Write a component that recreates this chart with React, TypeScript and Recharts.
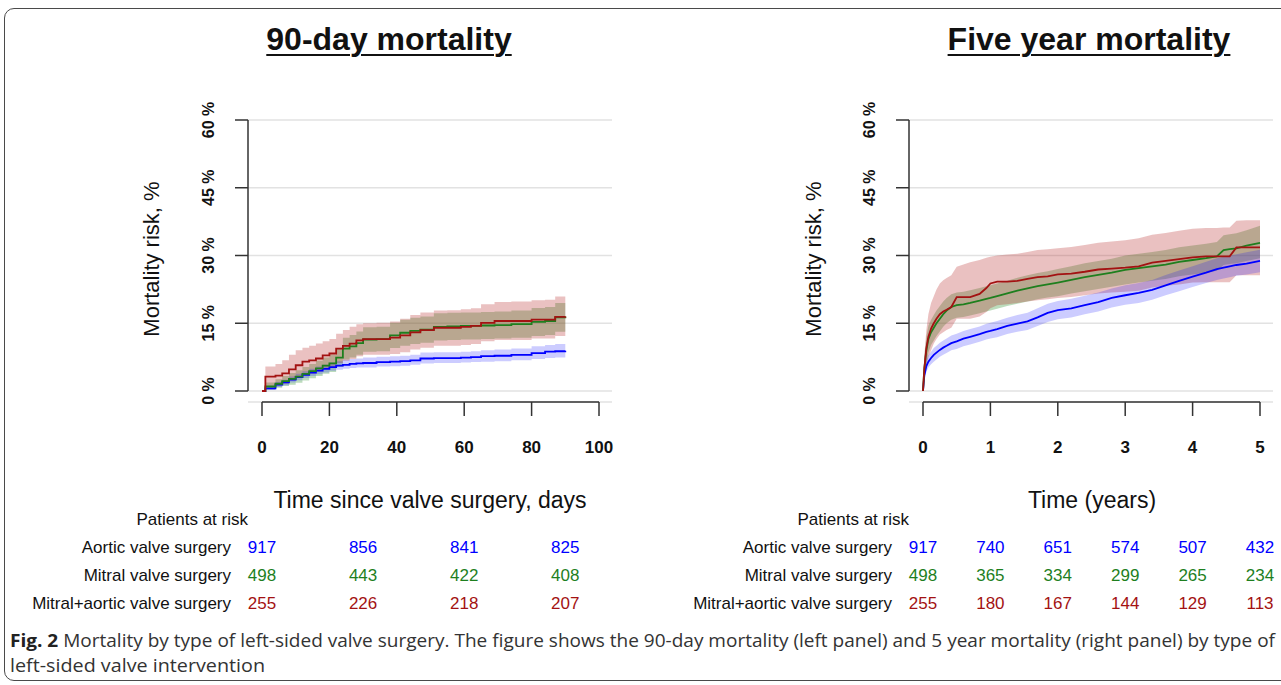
import { ComposedChart, Area, Line, XAxis, YAxis, CartesianGrid, ReferenceLine } from 'recharts'

// 90-day panel, cumulative mortality in %
const days = [0, 1, 4, 6, 8, 10, 12, 14, 16, 18, 20, 22, 24, 26, 28, 30, 34, 38, 41, 44, 47, 51, 55, 59, 62, 65, 69, 74, 80, 84, 87, 90]
const aortic90 = [0, 0.6, 1.4, 1.9, 2.5, 3.1, 3.6, 4.1, 4.5, 4.9, 5.3, 5.6, 5.8, 6.0, 6.1, 6.2, 6.4, 6.5, 6.6, 6.8, 7.2, 7.3, 7.3, 7.4, 7.5, 7.7, 7.8, 8.0, 8.4, 8.7, 8.8, 8.9]
const aortic90Lo = [0, 0.2, 0.9, 1.3, 1.9, 2.4, 2.9, 3.3, 3.7, 4.1, 4.5, 4.7, 4.9, 5.1, 5.2, 5.2, 5.4, 5.5, 5.6, 5.8, 6.1, 6.2, 6.2, 6.3, 6.4, 6.5, 6.6, 6.8, 7.1, 7.3, 7.4, 7.5]
const aortic90Hi = [0, 1.0, 2.0, 2.5, 3.2, 3.8, 4.4, 4.9, 5.4, 5.8, 6.3, 6.6, 6.9, 7.1, 7.2, 7.4, 7.6, 7.7, 7.8, 8.0, 8.5, 8.6, 8.6, 8.7, 8.8, 9.0, 9.2, 9.4, 9.9, 10.2, 10.4, 10.6]
const mitral90 = [0, 1.0, 1.6, 2.2, 2.7, 3.2, 3.8, 4.4, 5.0, 5.6, 6.1, 7.4, 9.4, 9.9, 10.6, 11.4, 11.5, 12.3, 12.9, 13.3, 13.6, 14.2, 14.3, 14.4, 14.4, 14.5, 14.6, 14.8, 15.3, 15.5, 16.3, 16.5]
const mitral90Lo = [0, 0.3, 0.7, 1.1, 1.4, 1.8, 2.3, 2.8, 3.3, 3.8, 4.2, 5.3, 7.0, 7.4, 8.0, 8.7, 8.8, 9.5, 10.0, 10.4, 10.7, 11.2, 11.3, 11.4, 11.4, 11.5, 11.6, 11.8, 12.2, 12.4, 13.1, 13.2]
const mitral90Hi = [0, 1.9, 2.6, 3.3, 4.0, 4.6, 5.3, 6.0, 6.7, 7.4, 8.0, 9.5, 11.8, 12.4, 13.2, 14.1, 14.2, 15.1, 15.8, 16.2, 16.5, 17.2, 17.3, 17.4, 17.4, 17.5, 17.6, 17.8, 18.4, 18.6, 19.5, 19.8]
const both90 = [0, 3.2, 3.4, 3.9, 4.8, 5.7, 6.5, 6.8, 7.2, 7.9, 8.3, 9.4, 10.0, 10.5, 11.2, 11.5, 11.5, 11.8, 12.3, 13.0, 13.5, 14.0, 14.0, 14.2, 14.4, 15.1, 15.5, 15.5, 15.8, 15.8, 16.4, 16.5]
const both90Lo = [0, 1.0, 1.2, 1.6, 2.3, 3.0, 3.6, 3.9, 4.3, 4.9, 5.2, 6.2, 6.7, 7.1, 7.7, 8.0, 8.0, 8.2, 8.6, 9.2, 9.6, 10.0, 10.0, 10.2, 10.4, 11.0, 11.3, 11.3, 11.6, 11.6, 12.2, 12.2]
const both90Hi = [0, 5.4, 6.0, 6.8, 8.0, 9.0, 9.6, 10.0, 10.5, 11.0, 11.5, 12.7, 13.5, 14.2, 14.8, 15.0, 15.1, 15.4, 16.0, 16.8, 17.4, 17.8, 17.9, 18.1, 18.3, 19.2, 19.7, 19.8, 20.1, 20.2, 20.9, 21.0]

// five year panel
const years = [0, 0.02, 0.05, 0.08, 0.12, 0.16, 0.2, 0.25, 0.3, 0.35, 0.42, 0.5, 0.6, 0.7, 0.84, 0.94, 1.0, 1.1, 1.25, 1.4, 1.55, 1.7, 1.85, 2.0, 2.2, 2.4, 2.6, 2.8, 3.0, 3.2, 3.4, 3.6, 3.8, 4.0, 4.2, 4.36, 4.46, 4.55, 4.65, 4.8, 5.0]
const aortic5y = [0, 3.5, 5.5, 6.5, 7.3, 8.0, 8.5, 9.1, 9.6, 10.0, 10.6, 11.0, 11.6, 12.0, 12.6, 13.1, 13.3, 13.7, 14.4, 14.9, 15.4, 16.3, 17.3, 17.9, 18.3, 19.0, 19.7, 20.6, 21.2, 21.7, 22.4, 23.4, 24.4, 25.3, 26.2, 27.0, 27.3, 27.6, 27.9, 28.2, 28.8]
const aortic5yLo = [0, 2.5, 4.2, 5.2, 5.9, 6.5, 7.0, 7.6, 8.0, 8.4, 9.0, 9.3, 9.9, 10.3, 10.9, 11.4, 11.6, 11.9, 12.6, 13.1, 13.5, 14.4, 15.3, 15.9, 16.3, 17.0, 17.6, 18.5, 19.1, 19.5, 20.2, 21.2, 22.1, 23.0, 23.9, 24.6, 24.9, 25.2, 25.5, 25.8, 26.3]
const aortic5yHi = [0, 4.5, 6.8, 7.9, 8.7, 9.5, 10.0, 10.7, 11.2, 11.6, 12.3, 12.7, 13.3, 13.7, 14.3, 14.9, 15.1, 15.5, 16.2, 16.8, 17.3, 18.3, 19.3, 19.9, 20.4, 21.1, 21.8, 22.7, 23.4, 23.9, 24.6, 25.7, 26.7, 27.6, 28.6, 29.4, 29.7, 30.0, 30.3, 30.7, 31.3]
const mitral5y = [0, 5.0, 9.0, 11.5, 13.0, 14.0, 15.0, 16.0, 17.0, 17.8, 18.6, 19.0, 19.2, 19.5, 20.0, 20.4, 20.6, 21.0, 21.6, 22.2, 22.7, 23.2, 23.6, 24.0, 24.6, 25.2, 25.7, 26.2, 26.8, 27.2, 27.6, 28.0, 28.6, 29.0, 29.4, 29.8, 31.2, 31.4, 31.6, 32.2, 32.8]
const mitral5yLo = [0, 2.5, 6.0, 8.5, 10.2, 11.2, 12.2, 13.2, 14.2, 15.0, 15.8, 16.2, 16.4, 16.7, 17.2, 17.6, 17.8, 18.2, 18.8, 19.3, 19.8, 20.3, 20.7, 21.0, 21.6, 22.1, 22.6, 23.1, 23.6, 24.0, 24.4, 24.8, 25.4, 25.8, 26.2, 26.6, 27.9, 28.1, 28.3, 28.8, 29.4]
const mitral5yHi = [0, 7.5, 12.0, 14.5, 15.8, 16.8, 17.8, 18.8, 19.8, 20.6, 21.4, 21.8, 22.0, 22.3, 22.8, 23.2, 23.4, 23.8, 24.4, 25.1, 25.6, 26.1, 26.5, 27.0, 27.6, 28.3, 28.8, 29.3, 30.0, 30.4, 30.8, 31.2, 31.8, 32.2, 32.6, 33.0, 34.5, 34.7, 34.9, 35.6, 36.6]
const both5y = [0, 5.0, 9.5, 12.0, 13.8, 15.0, 16.0, 17.0, 17.6, 18.0, 18.6, 20.8, 20.8, 20.8, 21.5, 22.8, 23.8, 24.2, 24.2, 24.4, 24.8, 25.2, 25.4, 25.8, 26.0, 26.4, 26.9, 27.1, 27.3, 27.6, 28.4, 28.8, 29.2, 29.6, 29.8, 29.8, 29.8, 29.8, 31.8, 31.8, 31.8]
const both5yLo = [0, 2.5, 5.5, 7.5, 9.0, 10.5, 11.5, 12.5, 13.0, 13.5, 14.0, 16.0, 16.0, 16.0, 16.5, 17.5, 18.3, 19.0, 19.2, 19.5, 19.8, 20.1, 20.3, 20.6, 20.8, 21.2, 21.6, 21.8, 22.0, 22.2, 22.9, 23.3, 23.6, 24.0, 24.1, 24.1, 24.1, 24.1, 25.6, 25.6, 25.6]
const both5yHi = [0, 8.0, 13.5, 17.0, 19.5, 21.0, 22.5, 23.8, 24.5, 25.0, 25.6, 27.5, 28.0, 28.5, 29.0, 29.5, 29.7, 30.0, 30.2, 30.4, 30.8, 31.2, 31.4, 31.6, 31.9, 32.3, 32.8, 33.1, 33.4, 33.8, 34.6, 35.0, 35.5, 35.9, 36.1, 36.1, 36.2, 36.2, 37.7, 37.8, 37.8]

const yTicks = [0, 15, 30, 45, 60]
const dayTicks = [0, 20, 40, 60, 80, 100]
const yearTicks = [0, 1, 2, 3, 4, 5]

// patients at risk
const groups = ['Aortic valve surgery', 'Mitral valve surgery', 'Mitral+aortic valve surgery']
const riskDays = [0, 30, 60, 90]
const risk90 = [
  [917, 856, 841, 825],
  [498, 443, 422, 408],
  [255, 226, 218, 207],
]
const riskYears = [0, 1, 2, 3, 4, 5]
const risk5y = [
  [917, 740, 651, 574, 507, 432],
  [498, 365, 334, 299, 265, 234],
  [255, 180, 167, 144, 129, 113],
]

const BLUE = '#0000ff'
const GREEN = '#1e7f1e'
const RED = '#a31212'
const COLORS = [BLUE, GREEN, RED]
const FONT = '"Liberation Sans", Arial, sans-serif'

const rows90 = days.map((t, i) => ({
  t,
  aortic: aortic90[i],
  aorticCI: [aortic90Lo[i], aortic90Hi[i]],
  mitral: mitral90[i],
  mitralCI: [mitral90Lo[i], mitral90Hi[i]],
  both: both90[i],
  bothCI: [both90Lo[i], both90Hi[i]],
}))

const rows5y = years.map((t, i) => ({
  t,
  aortic: aortic5y[i],
  aorticCI: [aortic5yLo[i], aortic5yHi[i]],
  mitral: mitral5y[i],
  mitralCI: [mitral5yLo[i], mitral5yHi[i]],
  both: both5y[i],
  bothCI: [both5yLo[i], both5yHi[i]],
}))

// plot geometry shared by both panels
const PAD_L = 14
const PAD_R = 13
const PAD_B = 11
const PLOT_W = 364
const PLOT_H = 282
const SPAN = PLOT_W - PAD_L - PAD_R
const AXIS_Y = (-PAD_B * 60) / (PLOT_H - PAD_B)

const YTick = ({ x, y, payload }: any) => (
  <text
    x={x - 21}
    y={y}
    transform={`rotate(-90 ${x - 21} ${y})`}
    textAnchor="middle"
    fontFamily={FONT}
    fontWeight="bold"
    fontSize={16}
    fill="#111"
  >
    {payload.value} %
  </text>
)

const XTick = ({ x, y, payload }: any) => (
  <text x={x} y={y + 37} textAnchor="middle" fontFamily={FONT} fontWeight="bold" fontSize={17} fill="#111">
    {payload.value}
  </text>
)

type PanelProps = { rows: any[]; ticks: number[]; xMax: number; left: number; width: number; curve: 'stepAfter' | 'linear' }

function Panel({ rows, ticks, xMax, left, width, curve }: PanelProps) {
  const axisX = (-PAD_L * xMax) / SPAN
  return (
    <div style={{ position: 'absolute', left, top: 0 }}>
      <ComposedChart
        width={width}
        height={470}
        data={rows}
        margin={{ top: 120, right: width - 248 - PLOT_W, bottom: 18, left: 188 }}
      >
        <CartesianGrid horizontal vertical={false} stroke="#e2e2e2" strokeWidth={1.5} />
        <XAxis
          type="number"
          dataKey="t"
          domain={[0, xMax]}
          ticks={ticks}
          padding={{ left: PAD_L, right: PAD_R }}
          axisLine={false}
          tickLine={{ stroke: '#333', strokeWidth: 1.5 }}
          tickSize={14}
          tickMargin={0}
          height={50}
          tick={<XTick />}
        />
        <YAxis
          type="number"
          domain={[0, 60]}
          ticks={yTicks}
          padding={{ top: 0, bottom: PAD_B }}
          axisLine={false}
          tickLine={{ stroke: '#333', strokeWidth: 1.5 }}
          tickSize={13}
          tickMargin={0}
          width={60}
          tick={<YTick />}
        />
        <ReferenceLine
          segment={[{ x: 0, y: AXIS_Y }, { x: xMax, y: AXIS_Y }]}
          stroke="#333"
          strokeWidth={1.5}
          ifOverflow="visible"
        />
        <ReferenceLine
          segment={[{ x: axisX, y: 0 }, { x: axisX, y: 60 }]}
          stroke="#333"
          strokeWidth={1.5}
          ifOverflow="visible"
        />
        <Area type={curve} dataKey="mitralCI" stroke="none" fill="#228b22" fillOpacity={0.3} isAnimationActive={false} activeDot={false} />
        <Area type={curve} dataKey="bothCI" stroke="none" fill="#b22222" fillOpacity={0.28} isAnimationActive={false} activeDot={false} />
        <Area type={curve} dataKey="aorticCI" stroke="none" fill="#0000ff" fillOpacity={0.2} isAnimationActive={false} activeDot={false} />
        <Line type={curve} dataKey="aortic" stroke={BLUE} strokeWidth={1.8} dot={false} activeDot={false} isAnimationActive={false} />
        <Line type={curve} dataKey="mitral" stroke={GREEN} strokeWidth={1.8} dot={false} activeDot={false} isAnimationActive={false} />
        <Line type={curve} dataKey="both" stroke={RED} strokeWidth={1.8} dot={false} activeDot={false} isAnimationActive={false} />
      </ComposedChart>
    </div>
  )
}

function RiskTable({ axisLeft, times, xMax, counts }: { axisLeft: number; times: number[]; xMax: number; counts: number[][] }) {
  const x0 = axisLeft + PAD_L
  return (
    <g fontFamily={FONT} fontSize={17}>
      <text x={axisLeft} y={525} textAnchor="end" fill="#111">Patients at risk</text>
      {groups.map((g, r) => (
        <g key={g}>
          <text x={axisLeft - 17} y={553 + r * 28} textAnchor="end" fill="#111">{g}</text>
          {counts[r].map((n, i) => (
            <text key={i} x={x0 + (times[i] / xMax) * SPAN} y={553 + r * 28} textAnchor="middle" fill={COLORS[r]}>
              {n}
            </text>
          ))}
        </g>
      ))}
    </g>
  )
}

const titleStyle = {
  position: 'absolute' as const,
  top: 23,
  transform: 'translateX(-50%)',
  whiteSpace: 'nowrap' as const,
  fontFamily: FONT,
  fontWeight: 'bold' as const,
  fontSize: 32,
  lineHeight: '32px',
  color: '#111',
  textDecoration: 'underline',
  textDecorationThickness: '2px',
  textUnderlineOffset: '4px',
}

export default function App() {
  return (
    <div style={{ position: 'absolute', left: 0, top: 0, width: 1281, height: 685, overflow: 'hidden', background: '#fff' }}>
      <div
        style={{
          position: 'absolute',
          left: 4,
          top: 8,
          width: 1320,
          height: 671,
          border: '1.5px solid #4a4a4a',
          borderRadius: 10,
        }}
      />
      <div style={{ ...titleStyle, left: 389 }}>90-day mortality</div>
      <div style={{ ...titleStyle, left: 1089 }}>Five year mortality</div>

      <Panel rows={rows90} ticks={dayTicks} xMax={100} left={0} width={640} curve="stepAfter" />
      <Panel rows={rows5y} ticks={yearTicks} xMax={5} left={661} width={620} curve="linear" />

      <svg width={1281} height={685} style={{ position: 'absolute', left: 0, top: 0, pointerEvents: 'none' }}>
        <text x={159} y={259} transform="rotate(-90 159 259)" textAnchor="middle" fontFamily={FONT} fontSize={22} fill="#111">
          Mortality risk, %
        </text>
        <text x={821} y={259} transform="rotate(-90 821 259)" textAnchor="middle" fontFamily={FONT} fontSize={22} fill="#111">
          Mortality risk, %
        </text>
        <text x={430} y={508} textAnchor="middle" fontFamily={FONT} fontSize={23} fill="#111">
          Time since valve surgery, days
        </text>
        <text x={1092} y={508} textAnchor="middle" fontFamily={FONT} fontSize={23} fill="#111">
          Time (years)
        </text>

        <RiskTable axisLeft={248} times={riskDays} xMax={100} counts={risk90} />
        <RiskTable axisLeft={909} times={riskYears} xMax={5} counts={risk5y} />

        <text x={10} y={647} fontFamily='"Open Sans", sans-serif' fontSize={18} fill="#333" textLength={1265} lengthAdjust="spacingAndGlyphs">
          <tspan fontWeight="bold" fill="#222">Fig. 2</tspan>
          {' Mortality by type of left-sided valve surgery. The figure shows the 90-day mortality (left panel) and 5 year mortality (right panel) by type of'}
        </text>
        <text x={10} y={672} fontFamily='"Open Sans", sans-serif' fontSize={18} fill="#333" textLength={255} lengthAdjust="spacingAndGlyphs">
          left-sided valve intervention
        </text>
      </svg>
    </div>
  )
}
